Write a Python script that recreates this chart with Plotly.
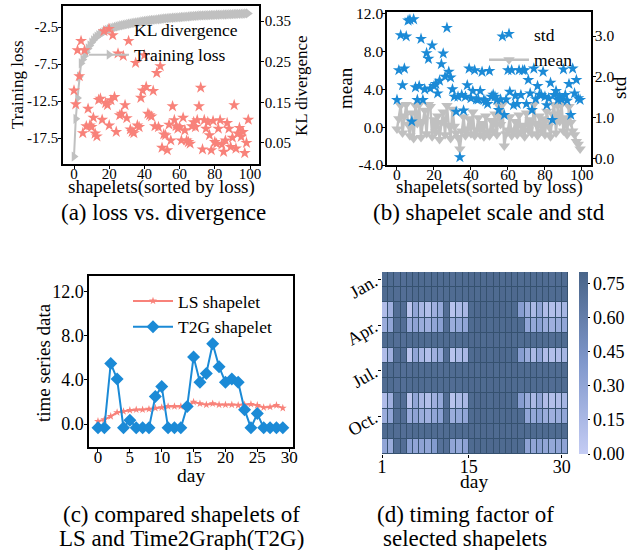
import plotly.graph_objects as go

W, H = 630, 550
FONT = "Liberation Serif"

# ---------------- data ----------------
shapelet_idx = list(range(100))
training_loss = [
    -20.0, -14.9, -12.1, -9.2, -7.4, -6.9, -6.4, -5.9, -5.4, -5.0,
    -4.6, -4.3, -4.0, -3.8, -3.6, -3.45, -3.3, -3.15, -3.0, -2.9,
    -2.8, -2.7, -2.62, -2.55, -2.48, -2.42, -2.36, -2.3, -2.25, -2.2,
    -2.15, -2.1, -2.05, -2.0, -1.96, -1.92, -1.88, -1.84, -1.8, -1.76,
    -1.72, -1.68, -1.65, -1.62, -1.59, -1.56, -1.53, -1.5, -1.47, -1.44,
    -1.41, -1.38, -1.35, -1.33, -1.31, -1.29, -1.27, -1.25, -1.23, -1.21,
    -1.19, -1.17, -1.15, -1.13, -1.11, -1.09, -1.07, -1.05, -1.03, -1.01,
    -0.99, -0.97, -0.95, -0.94, -0.93, -0.92, -0.91, -0.9, -0.89, -0.88,
    -0.87, -0.86, -0.85, -0.84, -0.83, -0.82, -0.81, -0.8, -0.79, -0.78,
    -0.77, -0.76, -0.75, -0.74, -0.73, -0.72, -0.71, -0.7, -0.68, -0.66]
kl_divergence = [
    0.179, 0.145, 0.278, 0.214, 0.301, 0.074, 0.278, 0.091, 0.134, 0.093,
    0.089, 0.112, 0.073, 0.066, 0.156, 0.159, 0.107, 0.325, 0.148, 0.143,
    0.093, 0.155, 0.315, 0.163, 0.077, 0.270, 0.118, 0.122, 0.264, 0.143,
    0.111, 0.301, 0.083, 0.077, 0.074, 0.247, 0.093, 0.089, 0.161, 0.179,
    0.266, 0.188, 0.122, 0.118, 0.115, 0.178, 0.091, 0.222, 0.089, 0.239,
    0.038, 0.071, 0.069, 0.032, 0.095, 0.056, 0.140, 0.106, 0.091, 0.085,
    0.089, 0.056, 0.112, 0.081, 0.056, 0.052, 0.048, 0.091, 0.101, 0.089,
    0.106, 0.140, 0.186, 0.034, 0.106, 0.085, 0.101, 0.069, 0.032, 0.104,
    0.052, 0.048, 0.085, 0.106, 0.046, 0.028, 0.056, 0.099, 0.085, 0.040,
    0.063, 0.143, 0.036, 0.073, 0.087, 0.065, 0.077, 0.025, 0.050, 0.107]

std_vals = [
    1.43, 2.16, 3.02, 1.79, 2.20, 2.99, 3.38, 3.40, 0.90, 3.41,
    1.74, 1.43, 1.77, 2.93, 1.43, 1.69, 2.58, 2.44, 1.71, 2.77,
    1.77, 1.82, 1.59, 1.90, 2.31, 2.57, 2.00, 3.20, 2.12, 1.98,
    1.69, 1.51, 1.14, 1.51, 0.02, 1.55, 1.17, 1.51, 1.79, 2.20,
    1.47, 1.65, 2.16, 1.44, 1.44, 1.65, 2.12, 1.43, 1.39, 1.33,
    2.14, 1.51, 1.56, 1.51, 1.43, 1.18, 1.44, 2.99, 1.06, 1.44,
    2.16, 1.63, 2.16, 1.30, 1.53, 1.33, 2.16, 1.55, 2.16, 2.16,
    1.33, 1.92, 1.59, 1.18, 2.20, 1.45, 1.77, 1.56, 1.55, 2.12,
    1.51, 1.30, 1.47, 1.85, 0.94, 1.55, 1.65, 1.43, 1.51, 1.44,
    2.18, 1.55, 1.41, 1.82, 1.06, 2.20, 1.59, 1.92, 1.47, 1.43]
mean_vals = [
    -0.2, 0.9, 2.3, -0.6, 1.2, 2.4, 0.3, -0.9, 1.5, -1.2,
    2.3, 0.4, 2.4, -1.1, 0.6, 1.8, -0.7, 2.4, 2.2, -1.0,
    0.8, -0.5, 1.2, -1.3, 0.5, 1.6, -0.8, 2.3, 0.2, -1.2,
    1.9, 0.1, -0.6, -1.1, -2.3, -0.4, 1.1, -0.9, -0.2, 0.9,
    -0.7, 1.6, -0.9, -0.3, 1.0, -0.8, 0.4, -1.0, 1.2, -0.5,
    -0.9, 0.7, -0.4, 1.4, -0.8, 2.3, 0.3, 2.4, -2.0, -0.7,
    -0.3, 1.1, -0.9, -0.4, 0.6, -0.8, 1.3, -0.5, 0.2, -1.0,
    1.5, -0.3, 0.8, -0.7, 2.4, 0.4, -0.9, 1.2, -0.4, 0.9,
    -0.8, 1.7, 0.1, -1.0, 1.4, 2.4, -0.6, 2.3, 0.6, 2.4,
    -0.4, 1.0, -0.8, 2.2, 0.5, -0.4, -0.8, -1.5, -1.8, -2.3]

days_c = list(range(30))
ls_shapelet = [0.25, 0.4, 0.7, 1.05, 1.15, 1.25, 1.3, 1.3, 1.35, 1.45,
               1.5, 1.6, 1.6, 1.6, 1.7, 2.0, 1.85, 1.75, 1.85, 1.75,
               1.75, 1.75, 1.7, 1.75, 1.8, 1.7, 1.5, 1.55, 1.7, 1.45]
t2g_shapelet = [-0.35, -0.35, 5.5, 4.1, -0.35, 0.35, -0.35, -0.35, -0.35, 2.5,
                3.4, -0.35, -0.35, -0.35, 1.6, 6.1, 3.8, 4.6, 7.3, 5.2,
                3.8, 4.1, 3.8, 1.3, -0.35, 0.95, -0.35, -0.35, -0.35, -0.35]

heat_days = list(range(30))
day_tick_labels = ["1", "15", "30"]
month_tick_labels = ["Jan.", "Apr.", "Jul.", "Oct."]
cbar_tick_labels = ["0.00", "0.15", "0.30", "0.45", "0.60", "0.75"]

dark_row_a = [0.74, 0.74, 0.72, 0.72, 0.74, 0.75, 0.75, 0.74, 0.75, 0.74,
              0.75, 0.73, 0.74, 0.75, 0.76, 0.76, 0.75, 0.76, 0.76, 0.75,
              0.76, 0.75, 0.74, 0.75, 0.74, 0.75, 0.74, 0.73, 0.74, 0.74]
dark_row_b = [0.75, 0.74, 0.73, 0.72, 0.73, 0.75, 0.74, 0.75, 0.74, 0.73,
              0.74, 0.74, 0.75, 0.74, 0.76, 0.75, 0.76, 0.76, 0.75, 0.76,
              0.75, 0.76, 0.75, 0.74, 0.75, 0.74, 0.75, 0.74, 0.74, 0.75]
light_row_a = [0.12, 0.22, 0.73, 0.72, 0.06, 0.30, 0.16, 0.10, 0.22, 0.28,
               0.73, 0.07, 0.14, 0.16, 0.75, 0.76, 0.76, 0.75, 0.76, 0.76,
               0.75, 0.75, 0.36, 0.25, 0.15, 0.30, 0.12, 0.10, 0.12, 0.18]
light_row_b = [0.25, 0.30, 0.73, 0.72, 0.26, 0.32, 0.25, 0.22, 0.30, 0.34,
               0.73, 0.24, 0.28, 0.30, 0.75, 0.76, 0.76, 0.75, 0.76, 0.75,
               0.76, 0.75, 0.74, 0.30, 0.28, 0.34, 0.25, 0.22, 0.25, 0.30]
light_row_c = [0.30, 0.25, 0.73, 0.72, 0.34, 0.30, 0.32, 0.30, 0.38, 0.70,
               0.72, 0.30, 0.28, 0.32, 0.75, 0.76, 0.75, 0.76, 0.76, 0.75,
               0.76, 0.75, 0.74, 0.32, 0.30, 0.35, 0.30, 0.28, 0.30, 0.32]
timing_factor = [dark_row_a, dark_row_b, light_row_a, light_row_b,
                 dark_row_a, light_row_a, dark_row_b, dark_row_a,
                 light_row_a, light_row_b, dark_row_b, light_row_c]

# ---------------- helpers ----------------
def xd(p0, p1):
    return [p0 / W, p1 / W]

def yd(top, bottom):
    return [1 - bottom / H, 1 - top / H]

GRAY = "#c0c0c0"
SALMON = "#f8827a"
BLUE = "#1b8ad6"

fig = go.Figure()

# (a)
fig.add_trace(go.Scatter(x=shapelet_idx, y=training_loss, name="Training loss",
                         mode="lines+markers", xaxis="x", yaxis="y",
                         line=dict(color=GRAY, width=2),
                         marker=dict(symbol="triangle-right", size=9, color=GRAY),
                         legend="legend"))
fig.add_trace(go.Scatter(x=shapelet_idx, y=kl_divergence, name="KL divergence",
                         mode="markers", xaxis="x", yaxis="y2",
                         marker=dict(symbol="star", size=9, color=SALMON, line=dict(width=0)),
                         legend="legend"))
# (b)
fig.add_trace(go.Scatter(x=shapelet_idx, y=mean_vals, name="mean",
                         mode="lines+markers", xaxis="x3", yaxis="y3",
                         line=dict(color=GRAY, width=2.5),
                         marker=dict(symbol="triangle-down", size=10, color=GRAY),
                         legend="legend2"))
fig.add_trace(go.Scatter(x=shapelet_idx, y=std_vals, name="std",
                         mode="markers", xaxis="x3", yaxis="y4",
                         marker=dict(symbol="star", size=9, color=BLUE, line=dict(width=0)),
                         legend="legend2"))
# (c)
fig.add_trace(go.Scatter(x=days_c, y=ls_shapelet, name="LS shapelet",
                         mode="lines+markers", xaxis="x5", yaxis="y5",
                         line=dict(color=SALMON, width=2),
                         marker=dict(symbol="star", size=6, color=SALMON),
                         legend="legend3"))
fig.add_trace(go.Scatter(x=days_c, y=t2g_shapelet, name="T2G shapelet",
                         mode="lines+markers", xaxis="x5", yaxis="y5",
                         line=dict(color=BLUE, width=2),
                         marker=dict(symbol="diamond", size=10, color=BLUE),
                         legend="legend3"))
# (d)
fig.add_trace(go.Heatmap(z=timing_factor, x=heat_days, y=list(range(12)),
                         xaxis="x6", yaxis="y6", zmin=0, zmax=0.80,
                         xgap=1, ygap=1, showscale=True,
                         colorscale=[[0, "rgb(196,204,244)"], [0.5, "rgb(128,152,204)"],
                                     [1, "rgb(72,100,136)"]],
                         colorbar=dict(thickness=9, len=(454 - 272) / H, lenmode="fraction",
                                       x=579 / W, xanchor="left", xpad=0,
                                       y=1 - 363 / H, yanchor="middle", ypad=0,
                                       outlinewidth=0, ticks="outside", ticklen=2,
                                       tickcolor="black",
                                       tickvals=[0, 0.15, 0.30, 0.45, 0.60, 0.75],
                                       ticktext=cbar_tick_labels,
                                       tickfont=dict(family=FONT, size=18, color="black")),
                         showlegend=False))

common = dict(showline=True, linecolor="rgb(0,0,0)", linewidth=1.5, ticks="outside",
              ticklen=3, tickwidth=1, tickcolor="rgb(0,0,0)", showgrid=False, zeroline=False)

def tf(s):
    return dict(family=FONT, size=s, color="black")

def border(l, r, t, b, w=1.5):
    # filled frame: black rectangle slightly larger than the plot area, white inside
    outer = dict(type="rect", xref="paper", yref="paper",
                 x0=(l - w) / W, x1=(r + w) / W, y0=1 - (b + w) / H, y1=1 - (t - w) / H,
                 fillcolor="black", opacity=1, line=dict(width=0), layer="below")
    inner = dict(type="rect", xref="paper", yref="paper",
                 x0=l / W, x1=r / W, y0=1 - b / H, y1=1 - t / H,
                 fillcolor="white", opacity=1, line=dict(width=0), layer="below")
    return [outer, inner]

shapes = []
shapes += border(63, 259, 6, 164)
shapes += border(387, 591, 12, 165)
shapes += border(89, 293, 276, 447)
shapes.append(dict(type="rect", xref="x6 domain", yref="y6 domain", x0=0, x1=1, y0=0, y1=1,
                   fillcolor="#35516f", opacity=1, line=dict(width=0), layer="below"))

fig.update_layout(
    template="none",
    width=W, height=H, margin=dict(l=0, r=0, t=0, b=0, pad=0, autoexpand=False),
    paper_bgcolor="white", plot_bgcolor="rgba(0,0,0,0)",
    font=dict(family=FONT, color="black"),
    xaxis=dict(domain=xd(63, 259), anchor="y", range=[-6.25, 105.1], mirror=True,
               tickvals=[0, 20, 40, 60, 80, 100], tickfont=tf(15),
               ticklabelstandoff=-8, **common),
    yaxis=dict(domain=yd(6, 164), anchor="x", range=[-21.0, 0.34],
               tickvals=[-2.5, -7.5, -12.5, -17.5],
               ticktext=["-2.5", "-7.5", "-12.5", "-17.5"], tickfont=tf(15),
               ticklabelstandoff=-3, **common),
    yaxis2=dict(domain=yd(6, 164), anchor="x", overlaying="y", side="right",
                range=[-0.002, 0.387], tickvals=[0.35, 0.25, 0.15, 0.05],
                ticktext=["0.35", "0.25", "0.15", "0.05"], tickfont=tf(15),
                ticklabelstandoff=-2, **common),
    xaxis3=dict(domain=xd(387, 591), anchor="y3", range=[-5.4, 104.9], mirror=True,
                tickvals=[0, 20, 40, 60, 80, 100], tickfont=tf(15.5),
                ticklabelstandoff=-8, **common),
    yaxis3=dict(domain=yd(12, 165), anchor="x3", range=[-4.0, 12.2],
                tickvals=[12, 8, 4, 0, -4],
                ticktext=["12.0", "8.0", "4.0", "0.0", "-4.0"], tickfont=tf(15.5),
                ticklabelstandoff=-4, **common),
    yaxis4=dict(domain=yd(12, 165), anchor="x3", overlaying="y3", side="right",
                range=[-0.17, 3.59], tickvals=[3, 2, 1, 0],
                ticktext=["3.0", "2.0", "1.0", "0.0"], tickfont=tf(15.5),
                ticklabelstandoff=-4, **common),
    xaxis5=dict(domain=xd(89, 293), anchor="y5", range=[-1.41, 30.6], mirror=True,
                tickvals=[0, 5, 10, 15, 20, 25, 30], tickfont=tf(17),
                ticklabelstandoff=-9, **common),
    yaxis5=dict(domain=yd(276, 447), anchor="x5", range=[-2.09, 13.45], mirror=True,
                tickvals=[0, 4, 8, 12], ticktext=["0.0", "4.0", "8.0", "12.0"],
                tickfont=tf(18), ticklabelstandoff=-3, **common),
    xaxis6=dict(domain=xd(382, 568), anchor="y6", range=[-0.5, 29.5], showline=False,
                ticks="outside", ticklen=3, tickcolor="black", showgrid=False, zeroline=False,
                tickvals=[-0.5, 13.5, 28.5], ticktext=day_tick_labels, tickfont=tf(18),
                ticklabelstandoff=-7),
    yaxis6=dict(domain=yd(272, 454), anchor="x6", range=[11.5, -0.5], showline=False,
                ticks="outside", ticklen=3, tickcolor="black", showgrid=False, zeroline=False,
                tickvals=[0, 3, 6, 9], ticktext=month_tick_labels, tickangle=-30,
                tickfont=tf(18)),
    legend=dict(x=84 / W, y=1 - 11 / H, xanchor="left", yanchor="top",
                traceorder="reversed", bgcolor="rgba(0,0,0,0)", itemwidth=40,
                font=tf(17.5)),
    legend2=dict(x=484 / W, y=1 - 16 / H, xanchor="left", yanchor="top",
                 traceorder="reversed", bgcolor="rgba(0,0,0,0)", itemwidth=40,
                 font=tf(17.5)),
    legend3=dict(x=128 / W, y=1 - 283 / H, xanchor="left", yanchor="top",
                 bgcolor="rgba(0,0,0,0)", itemwidth=40, font=tf(17.5)),
    shapes=shapes,
)

def ann(text, px, py, size, angle=0):
    fig.add_annotation(text=text, x=px / W, y=1 - py / H, xref="paper", yref="paper",
                       xanchor="center", yanchor="middle", showarrow=False,
                       textangle=angle, font=tf(size))

# axis titles
ann("Training loss", 17, 85, 17, -90)
ann("KL divergence", 301, 86, 17, -90)
ann("shapelets(sorted by loss)", 161, 187, 19)
ann("mean", 345, 88, 19, -90)
ann("std", 619, 88, 19, -90)
ann("shapelets(sorted by loss)", 489, 187, 19)
ann("time series data", 43, 362, 19, -90)
ann("day", 191, 475, 19.5)
ann("day", 474, 481, 19.5)
# captions
ann("(a) loss vs. divergence", 163, 212, 23)
ann("(b) shapelet scale and std", 489, 212, 23)
ann("(c) compared shapelets of", 182, 514, 23)
ann("LS and Time2Graph(T2G)", 182, 538, 23)
ann("(d) timing factor of", 465, 514, 23)
ann("selected shapelets", 465, 538, 23)

fig.write_html("out.html", config={"displayModeBar": False},
               post_script="document.body.style.margin='0px';"
                           "document.body.style.padding='0px';"
                           "document.body.style.overflow='hidden';")
